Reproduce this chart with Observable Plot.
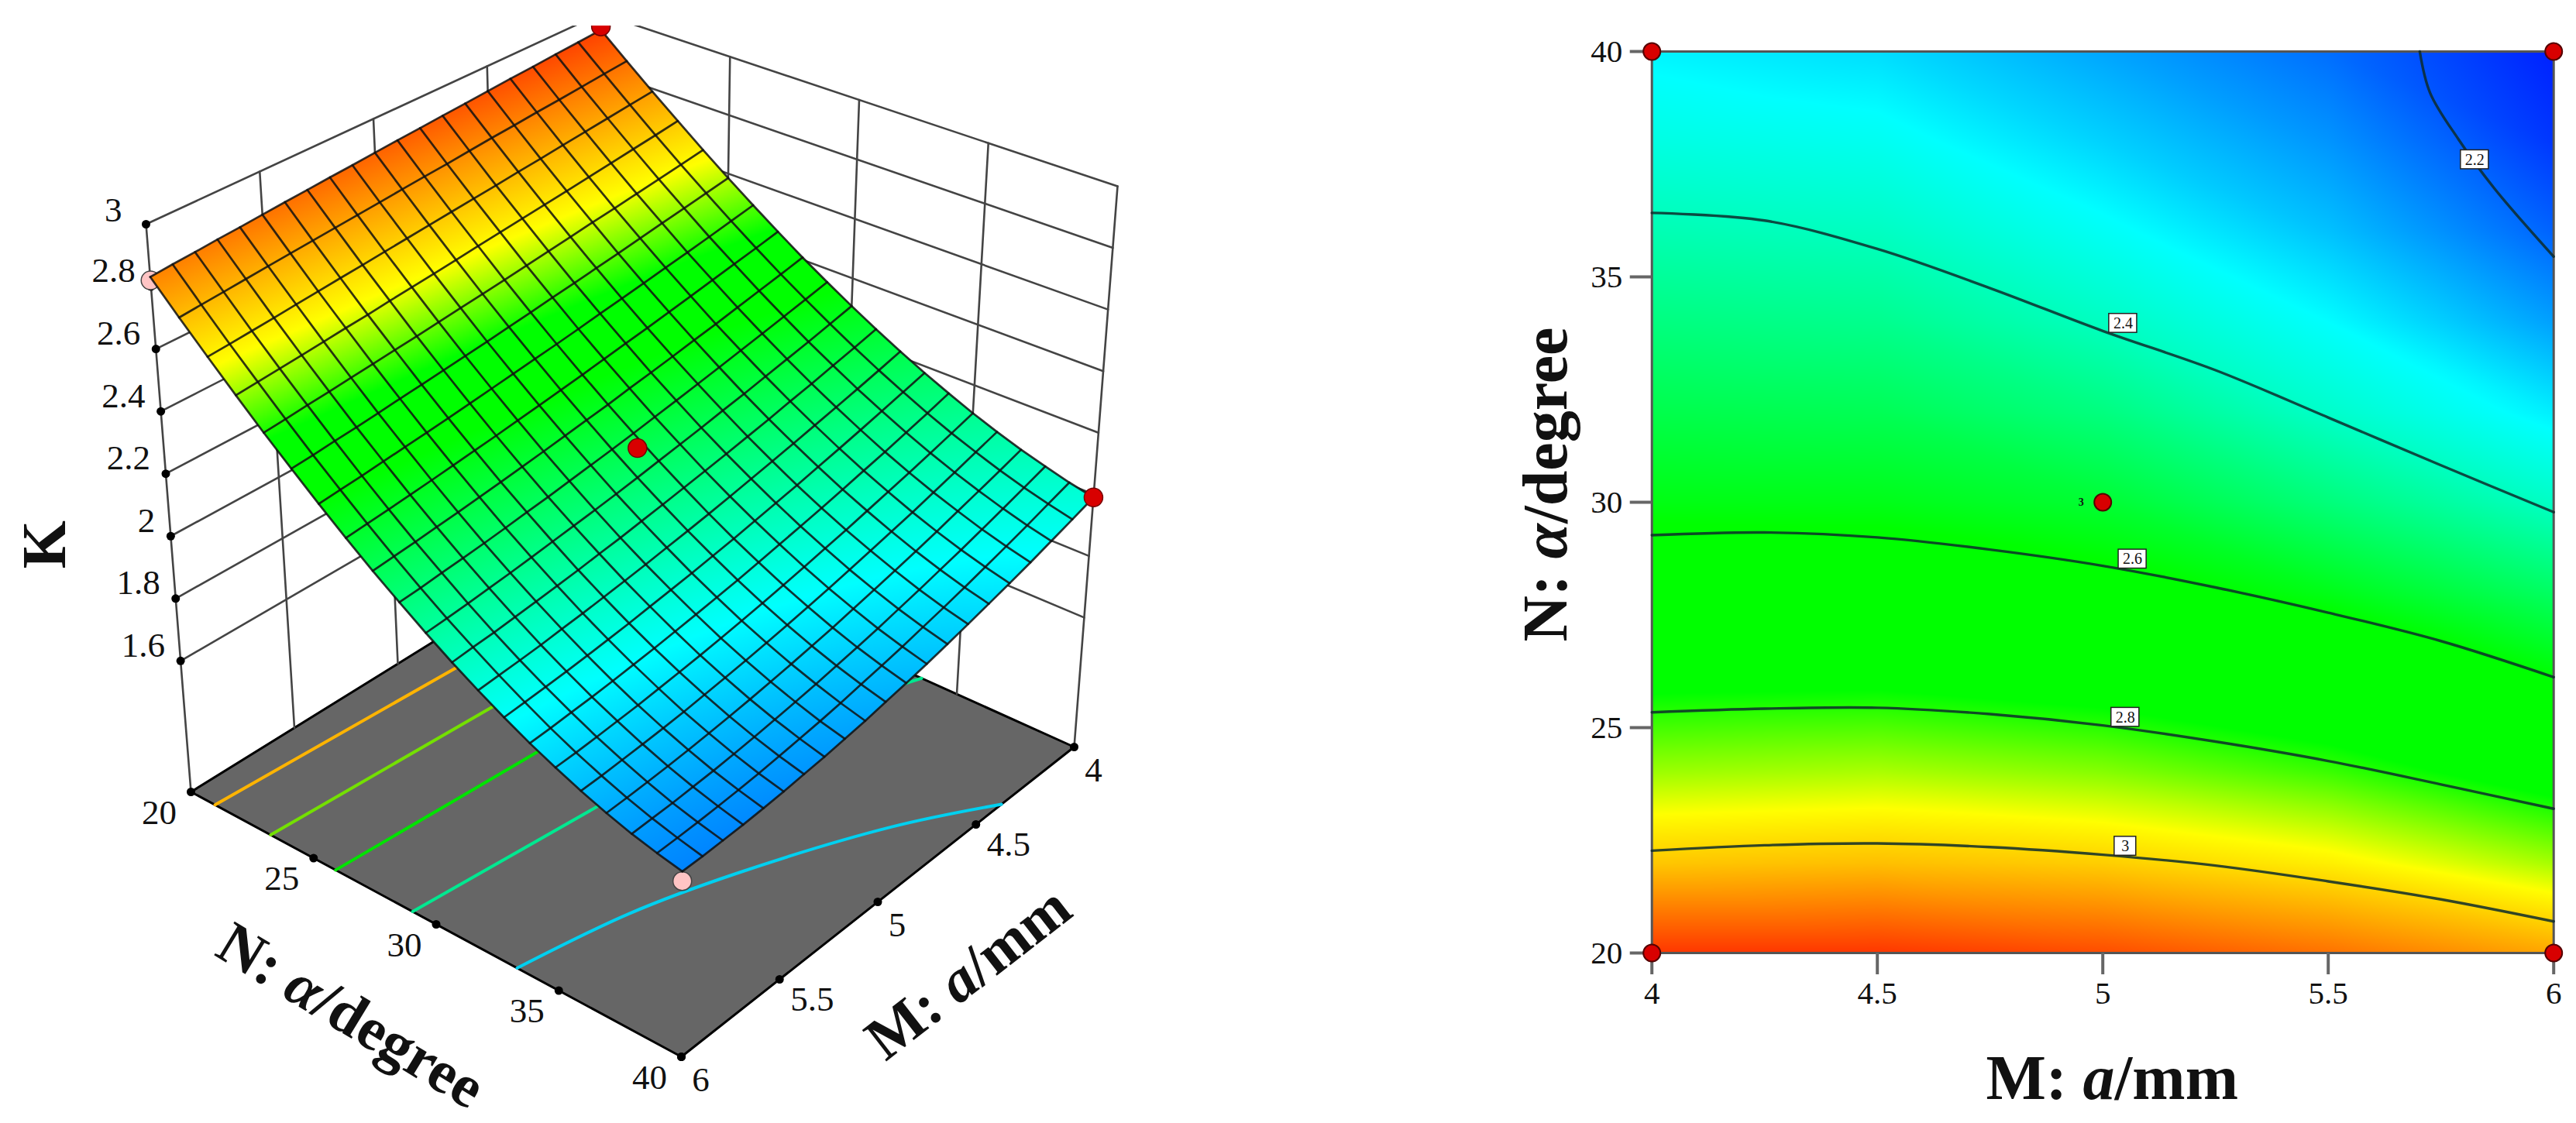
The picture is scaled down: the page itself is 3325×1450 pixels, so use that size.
<!DOCTYPE html>
<html><head><meta charset="utf-8">
<style>html,body{margin:0;padding:0;background:#fff}#row{display:flex;width:3325px;height:1450px;align-items:flex-start}#row svg{flex:none;display:block;max-width:none}#row svg:first-child{margin-top:33px}</style>
<script src="https://cdn.jsdelivr.net/npm/d3@7"></script>
<script src="https://cdn.jsdelivr.net/npm/@observablehq/plot@0.6"></script>
</head><body><div id="row"></div>
<script>
const ticksM=[4,4.5,5,5.5,6], ticksN=[20,25,30,35,40], ticksK=[1.6,1.8,2,2.2,2.4,2.6,2.8,3];
// right panel: K, per M column
const knotsN=[20,22,24,26,28,30,32,34,36,38,40];
const kM40=[3.22,3.025,2.885,2.765,2.665,2.58,2.52,2.465,2.41,2.36,2.32];
const kM45=[3.22,3.035,2.895,2.77,2.665,2.575,2.51,2.45,2.395,2.345,2.30];
const kM50=[3.19,3.015,2.87,2.745,2.63,2.545,2.465,2.395,2.34,2.29,2.25];
const kM55=[3.14,2.97,2.82,2.695,2.575,2.47,2.385,2.33,2.275,2.235,2.20];
const kM60=[3.07,2.89,2.74,2.605,2.495,2.39,2.315,2.245,2.19,2.15,2.13];
const contourM=[4,4.25,4.5,4.75,5,5.25,5.5,5.75,6];
const c24=[36.42,36.25,35.62,34.75,33.8,32.93,31.88,30.82,29.78];
const c26=[29.27,29.33,29.22,28.95,28.59,28.11,27.55,26.92,26.12];
const c28=[25.34,25.42,25.44,25.3,25.05,24.69,24.26,23.74,23.2];
const c30=[22.27,22.39,22.43,22.35,22.18,21.94,21.59,21.19,20.7];
const c22M=[5.703,5.726,5.789,5.867,6], c22N=[40,39.08,38.05,36.98,35.45];
const boxes=[{M:5.825,N:37.6,t:"2.2"},{M:5.045,N:33.97,t:"2.4"},{M:5.066,N:28.74,t:"2.6"},{M:5.05,N:25.23,t:"2.8"},{M:5.05,N:22.37,t:"3"}];
const designRight=[{M:4,N:20},{M:4,N:40},{M:6,N:20},{M:6,N:40},{M:5,N:30}];
// left panel: contours on the floor
const floorOrange={M:[6,4.91,4],N:[20.98,21.5,22]};
const floorYellow={M:[6,4.99,4],N:[23.25,23.8,24.5]};
const floorGreen={M:[6,5.07,4],N:[25.9,26.5,28]};
const floorTeal={M:[6,5.16,4.1,4],N:[29.04,29.86,33.04,33.5]};
const floorCyan={M:[6,5.55,5.17,4.67,4.37],N:[33.3,34.2,35.5,37.9,40]};
// left panel: surface K; one row per N (20..40), columns M = 4.0, 4.1 .. 6.0
const gridM=[4,4.1,4.2,4.3,4.4,4.5,4.6,4.7,4.8,4.9,5,5.1,5.2,5.3,5.4,5.5,5.6,5.7,5.8,5.9,6];
const gridN=[20,21,22,23,24,25,26,27,28,29,30,31,32,33,34,35,36,37,38,39,40];
const rowN20=[2.943,2.937,2.932,2.926,2.921,2.915,2.909,2.904,2.898,2.893,2.887,2.881,2.876,2.870,2.865,2.859,2.853,2.848,2.842,2.837,2.831];
const rowN21=[2.865,2.858,2.851,2.844,2.838,2.831,2.825,2.818,2.811,2.805,2.799,2.792,2.786,2.780,2.774,2.768,2.762,2.756,2.750,2.744,2.738];
const rowN22=[2.790,2.782,2.774,2.766,2.758,2.750,2.743,2.735,2.728,2.721,2.714,2.707,2.700,2.693,2.687,2.680,2.674,2.667,2.661,2.655,2.650];
const rowN23=[2.719,2.709,2.700,2.691,2.682,2.673,2.665,2.657,2.649,2.641,2.633,2.625,2.618,2.611,2.603,2.597,2.590,2.583,2.577,2.571,2.565];
const rowN24=[2.650,2.639,2.629,2.619,2.609,2.600,2.590,2.581,2.572,2.563,2.555,2.547,2.539,2.531,2.524,2.517,2.510,2.503,2.497,2.490,2.484];
const rowN25=[2.585,2.573,2.562,2.551,2.540,2.529,2.519,2.509,2.500,2.490,2.481,2.472,2.464,2.456,2.448,2.441,2.433,2.426,2.420,2.413,2.408];
const rowN26=[2.523,2.510,2.497,2.485,2.474,2.462,2.451,2.441,2.430,2.420,2.411,2.402,2.393,2.384,2.376,2.368,2.361,2.354,2.347,2.341,2.335];
const rowN27=[2.464,2.450,2.437,2.424,2.411,2.399,2.387,2.376,2.365,2.354,2.344,2.334,2.325,2.316,2.308,2.300,2.292,2.285,2.278,2.272,2.266];
const rowN28=[2.408,2.393,2.379,2.365,2.351,2.339,2.326,2.314,2.303,2.291,2.281,2.271,2.261,2.252,2.243,2.235,2.227,2.220,2.213,2.207,2.201];
const rowN29=[2.356,2.340,2.325,2.310,2.296,2.282,2.269,2.256,2.244,2.232,2.221,2.211,2.201,2.191,2.183,2.174,2.166,2.159,2.153,2.146,2.141];
const rowN30=[2.307,2.290,2.273,2.258,2.243,2.228,2.215,2.201,2.189,2.177,2.165,2.154,2.144,2.135,2.126,2.117,2.109,2.102,2.095,2.089,2.084];
const rowN31=[2.261,2.243,2.226,2.209,2.194,2.178,2.164,2.150,2.137,2.125,2.113,2.102,2.091,2.082,2.072,2.064,2.056,2.049,2.042,2.037,2.031];
const rowN32=[2.218,2.199,2.181,2.164,2.148,2.132,2.117,2.103,2.089,2.076,2.064,2.053,2.042,2.032,2.023,2.014,2.007,1.999,1.993,1.988,1.983];
const rowN33=[2.178,2.159,2.140,2.122,2.105,2.089,2.073,2.059,2.045,2.031,2.019,2.007,1.997,1.987,1.977,1.969,1.961,1.954,1.948,1.943,1.938];
const rowN34=[2.142,2.121,2.102,2.083,2.066,2.049,2.033,2.018,2.004,1.990,1.977,1.966,1.955,1.945,1.935,1.927,1.919,1.912,1.907,1.901,1.897];
const rowN35=[2.108,2.087,2.067,2.048,2.030,2.013,1.996,1.981,1.966,1.952,1.939,1.927,1.916,1.906,1.897,1.889,1.881,1.875,1.869,1.864,1.861];
const rowN36=[2.078,2.057,2.036,2.016,1.997,1.980,1.963,1.947,1.932,1.918,1.905,1.893,1.882,1.872,1.863,1.854,1.847,1.841,1.836,1.831,1.828];
const rowN37=[2.051,2.029,2.008,1.988,1.968,1.950,1.933,1.917,1.902,1.887,1.874,1.862,1.851,1.841,1.832,1.824,1.817,1.811,1.806,1.802,1.799];
const rowN38=[2.028,2.005,1.983,1.962,1.942,1.924,1.906,1.890,1.874,1.860,1.847,1.835,1.824,1.814,1.805,1.797,1.790,1.785,1.780,1.777,1.774];
const rowN39=[2.007,1.984,1.961,1.940,1.920,1.901,1.883,1.867,1.851,1.837,1.824,1.811,1.800,1.791,1.782,1.774,1.768,1.763,1.759,1.756,1.754];
const rowN40=[1.990,1.966,1.943,1.921,1.901,1.882,1.864,1.847,1.831,1.817,1.804,1.791,1.781,1.771,1.763,1.755,1.749,1.744,1.741,1.738,1.737];
const surface=[rowN20,rowN21,rowN22,rowN23,rowN24,rowN25,rowN26,rowN27,rowN28,rowN29,rowN30,rowN31,rowN32,rowN33,rowN34,rowN35,rowN36,rowN37,rowN38,rowN39,rowN40];
// camera of the 3D view: where the corners of the box fall
const camFloor={L:[246,1022],B:[780,691],R:[1386,964],F:[879,1364]};
const camTop={L:[188,289],B:[775,17],R:[1442,240],F:[883,582]};
const zMin=1.18,zMax=3;
function corner(c,M,N){const u=(6-M)/2,v=(N-20)/20;return [0,1].map(i=>(1-u)*(1-v)*c.L[i]+u*(1-v)*c.B[i]+u*v*c.R[i]+(1-u)*v*c.F[i]);}
function project(M,N,K){const a=corner(camFloor,M,N),b=corner(camTop,M,N),t=(K-zMin)/(zMax-zMin);return [a[0]+t*(b[0]-a[0]),a[1]+t*(b[1]-a[1])];}
const nodes=[],meshA=[],meshB=[];
gridN.forEach((N,j)=>gridM.forEach((M,i)=>{const p=project(M,N,surface[j][i]);const o={x:p[0],y:p[1],K:surface[j][i]};nodes.push(o);meshA.push({id:j,...o});meshB.push({id:i,...o});}));
const outline=[...d3.range(21).map(i=>[i,0]),...d3.range(1,21).map(j=>[20,j]),...d3.range(19,-1,-1).map(i=>[i,20]),...d3.range(19,0,-1).map(j=>[0,j])].map(([i,j])=>project(gridM[i],gridN[j],surface[j][i]));
const seg=(pts)=>pts.map(p=>({x:p[0],y:p[1]}));
const wallLines=[];
ticksK.forEach(K=>{wallLines.push(...[[6,20],[4,20],[4,40]].map(([M,N])=>{const p=project(M,N,K);return {id:"k"+K,x:p[0],y:p[1]};}));});
ticksM.forEach(M=>{[zMin,zMax].forEach(K=>{const p=project(M,20,K);wallLines.push({id:"m"+M,x:p[0],y:p[1]});});});
ticksN.forEach(N=>{[zMin,zMax].forEach(K=>{const p=project(4,N,K);wallLines.push({id:"n"+N,x:p[0],y:p[1]});});});
const floorQuad=[{x1:camFloor.L[0],y1:camFloor.L[1],x2:camFloor.F[0],y2:camFloor.F[1]},{x1:camFloor.B[0],y1:camFloor.B[1],x2:camFloor.R[0],y2:camFloor.R[1]}];
const floorEdge=seg([camFloor.L,camFloor.B,camFloor.R,camFloor.F,camFloor.L]);
const fc=(o)=>o.M.map((M,i)=>{const p=corner(camFloor,M,o.N[i]);return {x:p[0],y:p[1]};});
const floorPt=(M,N,t)=>{const p=corner(camFloor,M,N);return {x:p[0],y:p[1],t:String(t)};};
const kPts=ticksK.map(K=>{const p=project(6,20,K);return {x:p[0],y:p[1],t:String(K)};});
const nPts=ticksN.map(N=>floorPt(6,N,N)), mPts=ticksM.map(M=>floorPt(M,40,M));
const pinks=[[6,20,2.82],[6,40,1.708]].map(a=>{const p=project(...a);return {x:p[0],y:p[1]};});
const reds=[[4,20,2.955],[4,40,1.99],[5,30,2.26]].map(a=>{const p=project(...a);return {x:p[0],y:p[1]};});
const gridLine=(d,o)=>Plot.line(d,{x:"x",y:"y",...o});
const font="Liberation Serif";
const left=Plot.plot({width:1660,height:1417,marginTop:0,marginLeft:0,marginRight:0,marginBottom:0,
 x:{domain:[0,1660],axis:null},y:{domain:[33,1450],range:[0,1417],axis:null},
 color:{type:"linear",domain:[1.53,1.93,2.34,2.47,2.63,3.05],range:["#0000ff","#00ffff","#00ff00","#00ff00","#ffff00","#ff0000"],interpolate:"rgb"},
 style:{fontFamily:font,background:"transparent"},
 marks:[
  Plot.area(floorQuad,{x1:"x1",y1:"y1",x2:"x2",y2:"y2",fill:"#666666"}),
  gridLine(floorEdge,{stroke:"#000",strokeWidth:3}),
  gridLine(fc(floorOrange),{stroke:"#ffb400",strokeWidth:4}),
  gridLine(fc(floorYellow),{stroke:"#74e000",strokeWidth:4}),
  gridLine(fc(floorGreen),{stroke:"#00e400",strokeWidth:4}),
  gridLine(fc(floorTeal),{stroke:"#00e890",strokeWidth:4}),
  Plot.line(fc(floorCyan),{x:"x",y:"y",stroke:"#00d0f0",strokeWidth:4,curve:"catmull-rom"}),
  gridLine(wallLines,{z:"id",stroke:"#444",strokeWidth:2.6,clip:true}),
  Plot.dot(kPts,{x:"x",y:"y",r:5.5,fill:"#000"}),
  Plot.dot(nPts,{x:"x",y:"y",r:5.5,fill:"#000"}),
  Plot.dot(mPts,{x:"x",y:"y",r:5.5,fill:"#000"}),
  Plot.dot(pinks,{x:"x",y:"y",r:12,fill:"#ffc4c4",stroke:"#444",strokeWidth:1.5}),
  Plot.raster(nodes,{x:"x",y:"y",fill:"K",interpolate:"barycentric"}),
  gridLine(meshA,{z:"id",stroke:"#111",strokeWidth:2.7,strokeOpacity:0.85,clip:true}),
  gridLine(meshB,{z:"id",stroke:"#111",strokeWidth:2.7,strokeOpacity:0.85,clip:true}),
  Plot.dot(reds,{x:"x",y:"y",r:12,fill:"#d80000",stroke:"#700",strokeWidth:1.5,clip:true}),
  Plot.text(kPts.filter(d=>d.t!=="3"),{x:"x",y:"y",text:"t",textAnchor:"end",dx:-20,dy:-20,fontSize:45,fill:"#111"}),
  Plot.text(kPts.filter(d=>d.t==="3"),{x:"x",y:"y",text:"t",textAnchor:"end",dx:-31,dy:-18,fontSize:45,fill:"#111"}),
  Plot.text(nPts,{x:"x",y:"y",text:"t",dx:-41,dy:27,fontSize:45,fill:"#111"}),
  Plot.text(mPts.filter(d=>d.t.length>1),{x:"x",y:"y",text:"t",dx:42,dy:26,fontSize:45,fill:"#111"}),
  Plot.text(mPts.filter(d=>d.t.length===1),{x:"x",y:"y",text:"t",dx:25,dy:30,fontSize:45,fill:"#111"}),
  Plot.text([floorPt(6,30,"N: α/degree")],{x:"x",y:"y",text:"t",dx:-110,dy:118,rotate:31.3,fontSize:78,fontWeight:"bold",fill:"#111"}),
  Plot.text([floorPt(5,40,"M: a/mm")],{x:"x",y:"y",text:"t",dx:117,dy:92,rotate:-37.8,fontSize:78,fontWeight:"bold",fill:"#111"}),
  Plot.text([kPts[2]],{x:"x",y:"y",text:()=>"K",dx:-162,dy:11,rotate:-90,fontSize:80,fontWeight:"bold",fill:"#111"})
 ]});
const raster=[];
[[4,kM40],[4.5,kM45],[5,kM50],[5.5,kM55],[6,kM60]].forEach(([M,col])=>col.forEach((K,i)=>raster.push({M,N:knotsN[i],K})));
const cl=(N)=>contourM.map((M,i)=>({M,N:N[i]}));
const contourStyle={x:"M",y:"N",stroke:"#0d2b2b",strokeOpacity:0.85,strokeWidth:3.4,curve:"catmull-rom"};
const right=Plot.plot({width:1665,height:1450,marginLeft:471.7,marginRight:29.3,marginTop:66,marginBottom:220,
 x:{domain:[4,6]},y:{domain:[20,40]},
 color:{type:"linear",domain:[2.13,2.33,2.6,2.78,2.95,3.25],range:["#0020ff","#00ffff","#00ff00","#00ff00","#ffff00","#ff2000"],interpolate:"rgb"},
 style:{fontFamily:font,background:"transparent"},
 marks:[
  Plot.raster(raster,{x:"M",y:"N",fill:"K",interpolate:"barycentric"}),
  Plot.frame({stroke:"#555",strokeWidth:3}),
  Plot.axisX({ticks:ticksM,tickSize:28,tickPadding:8,fontSize:41,stroke:"#666",strokeWidth:4,fill:"#111",label:null,tickFormat:String}),
  Plot.axisY({ticks:ticksN,tickSize:28,tickPadding:10,fontSize:41,stroke:"#666",strokeWidth:4,fill:"#111",label:null,tickFormat:String}),
  Plot.line(cl(c24),contourStyle),Plot.line(cl(c26),contourStyle),Plot.line(cl(c28),contourStyle),Plot.line(cl(c30),contourStyle),
  Plot.line(c22M.map((M,i)=>({M,N:c22N[i]})),contourStyle),
  Plot.rect(boxes,{x1:d=>d.M-(d.t.length>1?0.031:0.024),x2:d=>d.M+(d.t.length>1?0.031:0.024),y1:d=>d.N-0.21,y2:d=>d.N+0.21,fill:"#fff",stroke:"#222",strokeWidth:1.5}),
  Plot.text(boxes,{x:"M",y:"N",text:"t",fontSize:20,fill:"#111"}),
  Plot.dot(designRight,{x:"M",y:"N",r:11,fill:"#d80000",stroke:"#500",strokeWidth:2}),
  Plot.text([{M:5,N:30}],{x:"M",y:"N",text:()=>"3",dx:-28,fontSize:14,fontWeight:"bold",fill:"#111"}),
  Plot.text(["N: α/degree"],{frameAnchor:"left",textAnchor:"middle",dx:-136,dy:-23,rotate:-90,fontSize:82,fontWeight:"bold",fill:"#111",text:d=>d}),
  Plot.text(["M: a/mm"],{frameAnchor:"bottom",dx:12,dy:188,fontSize:82,fontWeight:"bold",fill:"#111",text:d=>d})
 ]});
function italicize(svg){
 d3.select(svg).selectAll("text").each(function(){
  const s=this.textContent;
  const m=s==="N: α/degree"?["N: ","α","/degree"]:s==="M: a/mm"?["M: ","a","/mm"]:null;
  if(!m)return;
  this.textContent="";
  const t=d3.select(this);
  t.append("tspan").text(m[0]);
  t.append("tspan").attr("font-style","italic").text(m[1]);
  t.append("tspan").text(m[2]);
 });
}
italicize(left);italicize(right);
// the smooth surface image is cut to the outline of the mesh (outline is in screen pixels, image is in svg pixels)
const sel=d3.select(left);
sel.append("defs").append("clipPath").attr("id","surfaceClip").append("polygon").attr("points",outline.map(p=>p[0]+","+(p[1]-33)).join(" "));
sel.select("image").attr("clip-path","url(#surfaceClip)");
document.getElementById("row").append(left,right);
</script></body></html>
